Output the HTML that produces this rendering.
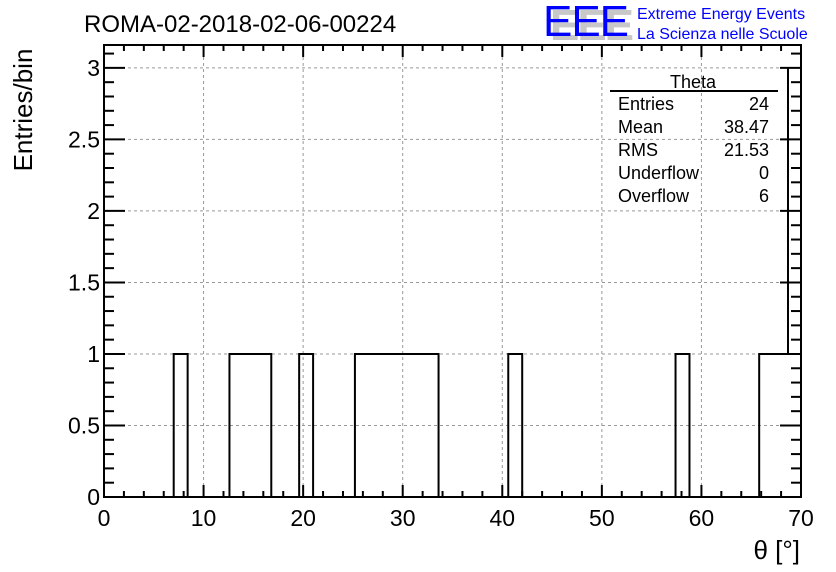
<!DOCTYPE html>
<html><head><meta charset="utf-8"><style>
body{margin:0;background:#fff;}
svg{display:block;font-family:"Liberation Sans",sans-serif;}
</style></head><body>
<svg id="chart" width="836" height="572" viewBox="0 0 836 572">
<rect width="836" height="572" fill="#fff"/>
<text x="84" y="32" font-size="24">ROMA-02-2018-02-06-00224</text>
<g>
<text x="550" y="40" font-size="44" fill="#c8c8c8" font-weight="bold" textLength="84">EEE</text>
<text x="543" y="36" font-size="44" fill="#0000ff" textLength="86">EEE</text>
<text x="637" y="19" font-size="16" fill="#0000ff">Extreme Energy Events</text>
<text x="637" y="39" font-size="16" fill="#0000ff">La Scienza nelle Scuole</text>
</g>
<g id="grid"></g>
<g id="bars"></g>
<g id="axes"></g>
<g font-size="18">
<text x="693" y="88" text-anchor="middle">Theta</text>
<line x1="610" y1="91" x2="778" y2="91" stroke="#000" stroke-width="2"/>
<text x="618" y="110">Entries</text><text x="769" y="110" text-anchor="end">24</text>
<text x="618" y="133">Mean</text><text x="769" y="133" text-anchor="end">38.47</text>
<text x="618" y="156">RMS</text><text x="769" y="156" text-anchor="end">21.53</text>
<text x="618" y="179">Underflow</text><text x="769" y="179" text-anchor="end">0</text>
<text x="618" y="202">Overflow</text><text x="769" y="202" text-anchor="end">6</text>
<line x1="788" y1="67" x2="788" y2="354" stroke="#000" stroke-width="2"/>
</g>
<text x="24" y="110" font-size="26" transform="rotate(-90 24 110)" text-anchor="middle" dy="8">Entries/bin</text>
<text x="800" y="559" font-size="26" text-anchor="end">θ [°]</text>
</svg>
<script>
const binCounts = [0,0,0,0,0,1,0,0,0,1,1,1,0,0,1,0,0,0,1,1,1,1,1,1,0,0,0,0,0,1,0,0,0,0,0,0,0,0,0,0,0,1,0,0,0,0,0,1,1,1];
const xTicks = [0,10,20,30,40,50,60,70];
const yTicks = [0,0.5,1,1.5,2,2.5,3];
const xMin=0,xMax=70,yMin=0,yMax=3.16;
const L=104,R=801,T=45,B=497;
const sx=v=>L+(v-xMin)/(xMax-xMin)*(R-L);
const sy=v=>B-(v-yMin)/(yMax-yMin)*(B-T);
const NS="http://www.w3.org/2000/svg";
function mk(tag,attrs,parent){const e=document.createElementNS(NS,tag);for(const k in attrs)e.setAttribute(k,attrs[k]);parent.appendChild(e);return e;}
const grid=document.getElementById('grid'),bars=document.getElementById('bars'),axes=document.getElementById('axes');
xTicks.forEach(v=>{if(v>xMin&&v<xMax){const l=mk('line',{x1:sx(v),x2:sx(v),y1:T,y2:B,stroke:'#999','stroke-dasharray':'3,3'},grid);

}});
yTicks.forEach(v=>{if(v>yMin){const l=mk('line',{x1:L,x2:R,y1:sy(v),y2:sy(v),stroke:'#999','stroke-dasharray':'3,3'},grid);

}});
const bw=(xMax-xMin)/binCounts.length;
let d='M'+sx(xMin)+','+sy(0);
binCounts.forEach((c,i)=>{const x0=xMin+i*bw,x1=x0+bw;d+=' L'+sx(x0)+','+sy(c)+' L'+sx(x1)+','+sy(c);});
d+=' L'+sx(xMax)+','+sy(0);
const p=mk('path',{d:d,fill:'none',stroke:'#000','stroke-width':2},bars);


const fr=mk('rect',{x:L,y:T,width:R-L,height:B-T,fill:'none',stroke:'#000','stroke-width':2},axes);


for(let v=xMin;v<=xMax+1e-9;v+=2){const maj=Math.abs(v%10)<1e-9;const len=maj?12:6;
mk('line',{x1:sx(v),x2:sx(v),y1:B,y2:B-len,stroke:'#000','stroke-width':2},axes);
mk('line',{x1:sx(v),x2:sx(v),y1:T,y2:T+len,stroke:'#000','stroke-width':2},axes);}
for(let k=0;k<=31;k++){const v=k/10;const maj=k%5===0;const len=maj?21:10;
mk('line',{x1:L,x2:L+len,y1:sy(v),y2:sy(v),stroke:'#000','stroke-width':2},axes);
mk('line',{x1:R,x2:R-len,y1:sy(v),y2:sy(v),stroke:'#000','stroke-width':2},axes);}
xTicks.forEach(v=>{const t=mk('text',{x:sx(v),y:B+29,'font-size':23,'text-anchor':'middle'},axes);t.textContent=v;

});
yTicks.forEach(v=>{const t=mk('text',{x:L-4,y:sy(v)+8,'font-size':23,'text-anchor':'end'},axes);t.textContent=v;

});
</script>
</body></html>
